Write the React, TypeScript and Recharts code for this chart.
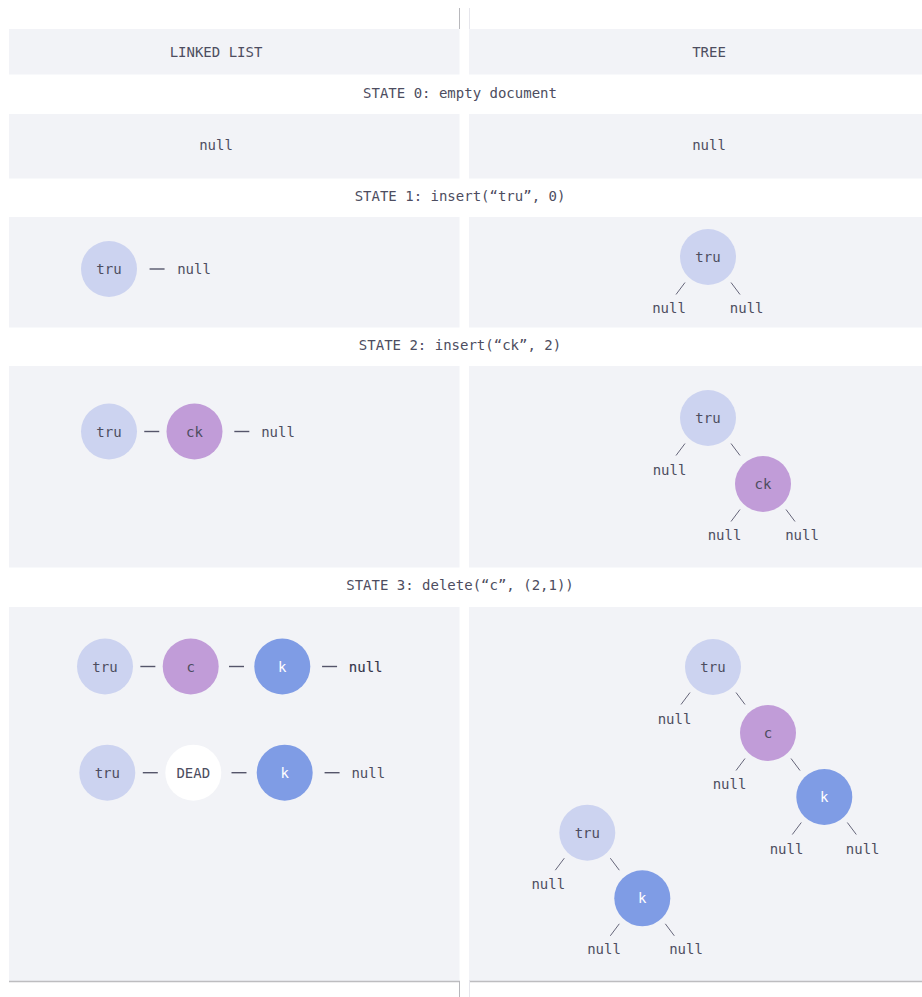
import { ScatterChart, Scatter, XAxis, YAxis, ReferenceArea, ReferenceLine } from 'recharts';

const WIDTH = 922;
const HEIGHT = 997;

// column headers and state captions
const columnTitles = ['LINKED LIST', 'TREE'];
const columnTitleX = [216, 709];
const columnTitleY = 52;

const stateTitles = [
    'STATE 0: empty document',
    'STATE 1: insert(\u201Ctru\u201D, 0)',
    'STATE 2: insert(\u201Cck\u201D, 2)',
    'STATE 3: delete(\u201Cc\u201D, (2,1))',
];
const stateTitleY = [93, 196, 345, 585];

// row bands (top, bottom) for header + the four states
const rowBands = [
    [29, 74.5],
    [114, 178.5],
    [217, 327.5],
    [366, 567.5],
    [607, 981],
];

type Kind = 'tru' | 'ck' | 'k' | 'dead' | 'null' | 'nullStrong';

interface Item {
    label: string;
    kind: Kind;
    x: number;
    y: number;
}

interface TreeItem extends Item {
    id: string;
    parent?: string;
}

// linked list, one chain per line
const listState0: Item[] = [{ label: 'null', kind: 'null', x: 216, y: 144.5 }];
const listState1: Item[] = [
    { label: 'tru', kind: 'tru', x: 109, y: 269 },
    { label: 'null', kind: 'null', x: 194, y: 269 },
];
const listState2: Item[] = [
    { label: 'tru', kind: 'tru', x: 109, y: 431.5 },
    { label: 'ck', kind: 'ck', x: 194.5, y: 431.5 },
    { label: 'null', kind: 'null', x: 278, y: 431.5 },
];
const listState3a: Item[] = [
    { label: 'tru', kind: 'tru', x: 105, y: 666.5 },
    { label: 'c', kind: 'ck', x: 190.7, y: 666.5 },
    { label: 'k', kind: 'k', x: 282.3, y: 666.5 },
    { label: 'null', kind: 'nullStrong', x: 365.7, y: 666.5 },
];
const listState3b: Item[] = [
    { label: 'tru', kind: 'tru', x: 107.3, y: 772.7 },
    { label: 'DEAD', kind: 'dead', x: 193.3, y: 772.7 },
    { label: 'k', kind: 'k', x: 284.7, y: 772.7 },
    { label: 'null', kind: 'null', x: 368.3, y: 772.7 },
];
const listChains = [listState0, listState1, listState2, listState3a, listState3b];

// trees
const treeState0: TreeItem[] = [{ id: 's0', label: 'null', kind: 'null', x: 709, y: 144.5 }];
const treeState1: TreeItem[] = [
    { id: 'a', label: 'tru', kind: 'tru', x: 708, y: 257 },
    { id: 'a1', label: 'null', kind: 'null', x: 669, y: 308, parent: 'a' },
    { id: 'a2', label: 'null', kind: 'null', x: 746.7, y: 308, parent: 'a' },
];
const treeState2: TreeItem[] = [
    { id: 'b', label: 'tru', kind: 'tru', x: 708, y: 418 },
    { id: 'b1', label: 'null', kind: 'null', x: 669.5, y: 470, parent: 'b' },
    { id: 'b2', label: 'ck', kind: 'ck', x: 763, y: 484, parent: 'b' },
    { id: 'b3', label: 'null', kind: 'null', x: 724.5, y: 535, parent: 'b2' },
    { id: 'b4', label: 'null', kind: 'null', x: 802, y: 535, parent: 'b2' },
];
const treeState3: TreeItem[] = [
    { id: 'c', label: 'tru', kind: 'tru', x: 713, y: 667 },
    { id: 'c1', label: 'null', kind: 'null', x: 674.5, y: 719, parent: 'c' },
    { id: 'c2', label: 'c', kind: 'ck', x: 768, y: 733, parent: 'c' },
    { id: 'c3', label: 'null', kind: 'null', x: 729.5, y: 784, parent: 'c2' },
    { id: 'c4', label: 'k', kind: 'k', x: 824.3, y: 797, parent: 'c2' },
    { id: 'c5', label: 'null', kind: 'null', x: 786.5, y: 848.5, parent: 'c4' },
    { id: 'c6', label: 'null', kind: 'null', x: 862.7, y: 848.5, parent: 'c4' },
    { id: 'd', label: 'tru', kind: 'tru', x: 587.3, y: 832.7 },
    { id: 'd1', label: 'null', kind: 'null', x: 548.3, y: 884.3, parent: 'd' },
    { id: 'd2', label: 'k', kind: 'k', x: 642.3, y: 898.3, parent: 'd' },
    { id: 'd3', label: 'null', kind: 'null', x: 604, y: 949.3, parent: 'd2' },
    { id: 'd4', label: 'null', kind: 'null', x: 686, y: 949.3, parent: 'd2' },
];
const treeItems = [...treeState0, ...treeState1, ...treeState2, ...treeState3];

const FONT = '"DejaVu Sans Mono", monospace';
const TEXT = '#4d4d60';
const PANEL = '#f2f3f7';
const RADIUS = 28;
const CHAR_W = 8.43;

const nodeFill: Record<string, string> = {
    tru: '#ccd3f0',
    ck: '#c19cd8',
    k: '#7f9ce5',
    dead: '#ffffff',
};

const isCircle = (it: Item) => it.kind !== 'null' && it.kind !== 'nullStrong';
const halfWidth = (it: Item) => (isCircle(it) ? RADIUS : (it.label.length * CHAR_W) / 2);

const allItems: Item[] = [...listChains.flat(), ...treeItems];
const circles = allItems.filter(isCircle);
const nulls = allItems.filter((it) => !isCircle(it));

// dash between neighbours of a chain, centred in the gap
const dashes = listChains.flatMap((chain) =>
    chain.slice(1).map((b, i) => {
        const a = chain[i];
        const left = a.x + halfWidth(a);
        const right = b.x - halfWidth(b);
        return { x: (left + right) / 2, y: a.y };
    })
);

// short strokes hanging off a parent towards each child
const treeEdges = treeItems
    .filter((t) => t.parent)
    .map((t) => {
        const p = treeItems.find((q) => q.id === t.parent)!;
        const s = t.x < p.x ? -1 : 1;
        return {
            key: t.id,
            from: { x: p.x + s * 23, y: p.y + 25.5 },
            to: { x: p.x + s * 32, y: p.y + 37.5 },
        };
    });

const titles = [
    ...columnTitles.map((label, i) => ({ label, x: columnTitleX[i], y: columnTitleY })),
    ...stateTitles.map((label, i) => ({ label, x: 460, y: stateTitleY[i] })),
];

const NodeShape = (props: any) => {
    const { cx, cy, payload } = props;
    return (
        <g>
            <circle cx={cx} cy={cy} r={RADIUS} fill={nodeFill[payload.kind]} />
            <text
                x={cx}
                y={cy}
                textAnchor="middle"
                dominantBaseline="central"
                fontFamily={FONT}
                fontSize={14}
                fill={payload.kind === 'k' ? '#ffffff' : TEXT}
            >
                {payload.label}
            </text>
        </g>
    );
};

const LabelShape = (props: any) => {
    const { cx, cy, payload } = props;
    const strong = payload.kind === 'nullStrong';
    return (
        <text
            x={cx}
            y={cy}
            textAnchor="middle"
            dominantBaseline="central"
            fontFamily={FONT}
            fontSize={14}
            fill={strong ? '#33334a' : TEXT}
            stroke={strong ? '#33334a' : 'none'}
            strokeWidth={strong ? 0.15 : 0}
        >
            {payload.label}
        </text>
    );
};

const DashShape = (props: any) => {
    const { cx, cy } = props;
    return <line x1={cx - 7.5} x2={cx + 7.5} y1={cy} y2={cy} stroke="#55556a" strokeWidth={1.4} />;
};

export default function App() {
    return (
        <div style={{ position: 'fixed', left: 0, top: 0, width: WIDTH, height: HEIGHT, background: '#fff' }}>
            <ScatterChart width={WIDTH} height={HEIGHT} margin={{ top: 0, right: 0, bottom: 0, left: 0 }}>
                <XAxis type="number" dataKey="x" domain={[0, WIDTH]} hide />
                <YAxis type="number" dataKey="y" domain={[0, HEIGHT]} reversed hide />

                {rowBands.map(([y1, y2]) => (
                    <ReferenceArea key={`l${y1}`} x1={9} x2={459.5} y1={y1} y2={y2} fill={PANEL} fillOpacity={1} stroke="none" ifOverflow="visible" />
                ))}
                {rowBands.map(([y1, y2]) => (
                    <ReferenceArea key={`r${y1}`} x1={469} x2={WIDTH} y1={y1} y2={y2} fill={PANEL} fillOpacity={1} stroke="none" ifOverflow="visible" />
                ))}

                {/* table rules */}
                <ReferenceLine segment={[{ x: 459.5, y: 8 }, { x: 459.5, y: 29 }]} stroke="#b8b8bc" ifOverflow="visible" />
                <ReferenceLine segment={[{ x: 469.5, y: 8 }, { x: 469.5, y: 29 }]} stroke="#e6e6ec" ifOverflow="visible" />
                <ReferenceLine segment={[{ x: 9, y: 981.5 }, { x: 460, y: 981.5 }]} stroke="#bdbdc0" strokeWidth={1.5} ifOverflow="visible" />
                <ReferenceLine segment={[{ x: 469, y: 981.5 }, { x: WIDTH, y: 981.5 }]} stroke="#bdbdc0" strokeWidth={1.5} ifOverflow="visible" />
                <ReferenceLine segment={[{ x: 459.5, y: 981 }, { x: 459.5, y: HEIGHT }]} stroke="#b8b8bc" ifOverflow="visible" />
                <ReferenceLine segment={[{ x: 469.5, y: 981 }, { x: 469.5, y: HEIGHT }]} stroke="#e6e6ec" ifOverflow="visible" />

                {treeEdges.map((e) => (
                    <ReferenceLine key={e.key} segment={[e.from, e.to]} stroke="#66667a" strokeWidth={1} ifOverflow="visible" />
                ))}

                <Scatter data={dashes} shape={DashShape} isAnimationActive={false} />
                <Scatter data={circles} shape={NodeShape} isAnimationActive={false} />
                <Scatter data={nulls} shape={LabelShape} isAnimationActive={false} />
                <Scatter data={titles} shape={LabelShape} isAnimationActive={false} />
            </ScatterChart>
        </div>
    );
}
